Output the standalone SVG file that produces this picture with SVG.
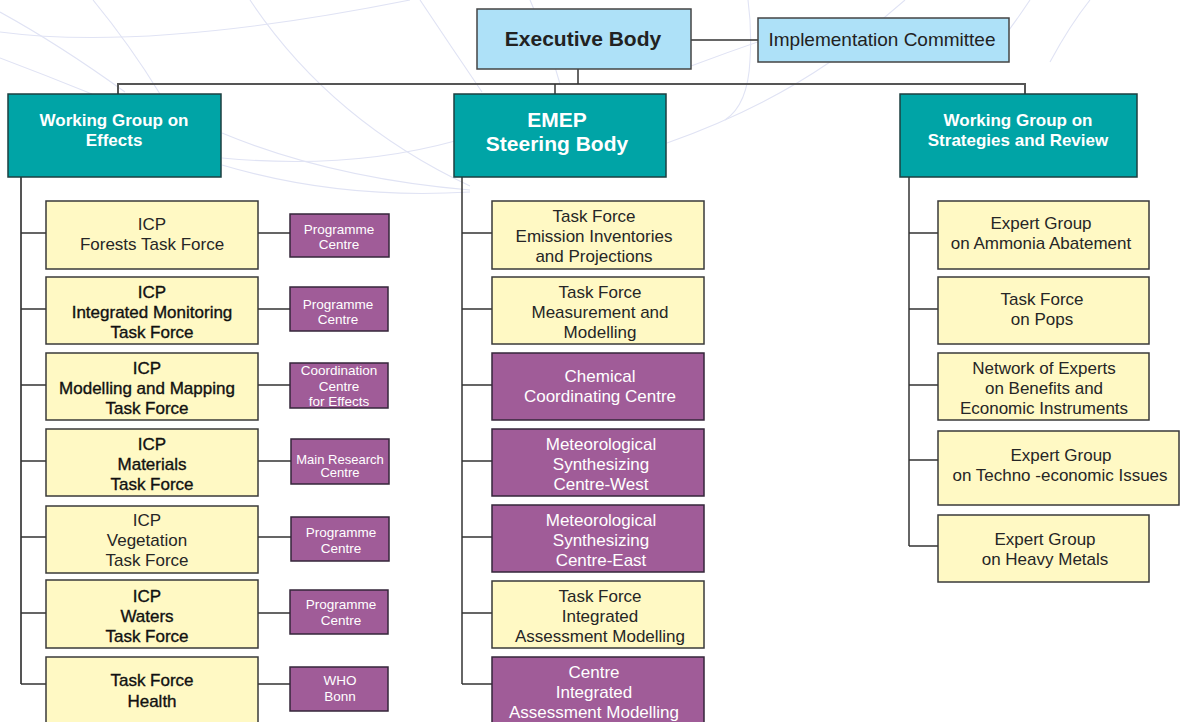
<svg xmlns="http://www.w3.org/2000/svg" width="1185" height="722" viewBox="0 0 1185 722">
  <style>
    text { font-family: "Liberation Sans", Arial, sans-serif; text-anchor: middle; }
    .bg { fill: none; stroke: #e0e3f4; stroke-width: 1.1; }
    .link { fill: none; stroke: #333; stroke-width: 1.5; }
    .bus { fill: none; stroke: #555; stroke-width: 2; }
    .blue { fill: #aee1f8; stroke: #444; stroke-width: 1.5; }
    .teal { fill: #00a4a6; stroke: #1d3f40; stroke-width: 1.5; }
    .yel { fill: #fff9c4; stroke: #3a3a3a; stroke-width: 1.5; }
    .pur { fill: #a05c98; stroke: #35263a; stroke-width: 1.5; }
    .tY { font-size: 17px; fill: #262626; }
    .dk { fill: #111; stroke: #111; stroke-width: 0.35; }
    .tP { font-size: 17px; fill: #fff; }
    .tS { font-size: 13.5px; fill: #fff; }
    .tH { font-size: 17px; font-weight: bold; fill: #fff; }
    .tE { font-size: 21px; font-weight: bold; fill: #fff; }
  </style>

  <rect width="1185" height="722" fill="#fff"/>

  <!-- faint globe mesh in the background -->
  <g id="mesh">
    <path class="bg" d="M0,32 Q150,52 410,0"/>
    <path class="bg" d="M0,12 Q60,45 125,92"/>
    <path class="bg" d="M0,58 Q45,75 92,94"/>
    <path class="bg" d="M93,0 Q130,45 160,94"/>
    <path class="bg" d="M250,0 Q330,120 470,186"/>
    <path class="bg" d="M420,0 Q450,45 482,92"/>
    <path class="bg" d="M222,133 Q330,178 470,190"/>
    <path class="bg" d="M222,158 Q350,170 455,141"/>
    <path class="bg" d="M222,165 Q340,200 470,192"/>
    <path class="bg" d="M667,143 Q760,110 830,62 Q870,30 905,0"/>
    <path class="bg" d="M750,60 Q748,105 725,120"/>
    <path class="bg" d="M691,66 Q760,40 830,18"/>
    <path class="bg" d="M748,0 Q752,30 750,60"/>
    <path class="bg" d="M530,0 Q548,40 560,84"/>
    <path class="bg" d="M1030,0 Q1010,30 985,62"/>
    <path class="bg" d="M1090,0 Q1070,25 1050,62"/>
  </g>

  <!-- connectors -->
  <g id="connectors">
    <path class="link" d="M691,40 H758"/>
    <path class="bus" d="M118,94 V84 H1025 V94"/>
    <path class="link" d="M578,69 V84"/>
    <path class="link" d="M555,84 V94"/>
    <!-- effects branch -->
    <path class="bus" d="M21,177 V684"/>
    <path class="link" d="M21,233 H46 M21,309 H46 M21,385 H46 M21,461 H46 M21,537 H46 M21,613 H46 M21,684 H46"/>
    <path class="link" d="M258,233 H290 M258,309 H290 M258,385 H290 M258,461 H291 M258,537 H291 M258,613 H290 M258,684 H290"/>
    <!-- EMEP branch -->
    <path class="link" d="M462,177 V684"/>
    <path class="link" d="M462,233 H492 M462,309 H492 M462,385 H492 M462,461 H492 M462,537 H492 M462,613 H492 M462,684 H492"/>
    <!-- strategies branch -->
    <path class="link" d="M909,177 V546"/>
    <path class="link" d="M909,233 H938 M909,309 H938 M909,385 H938 M909,460 H938 M909,546 H938"/>
  </g>

  <!-- top level -->
  <g id="executive-body">
    <rect class="blue" x="477" y="9" width="214" height="60"/>
    <text x="583" y="46" style="font-size:21px;font-weight:bold;fill:#222">Executive Body</text>
  </g>
  <g id="implementation-committee">
    <rect class="blue" x="758" y="18" width="251" height="44"/>
    <text x="882" y="46" style="font-size:19px;fill:#222">Implementation Committee</text>
  </g>

  <g id="wg-effects">
    <rect class="teal" x="8" y="94" width="213" height="83"/>
    <text class="tH" x="114" y="126">Working Group on</text>
    <text class="tH" x="114" y="146">Effects</text>
  </g>
  <g id="emep-steering-body">
    <rect class="teal" x="454" y="94" width="212" height="83"/>
    <text class="tE" x="557" y="127">EMEP</text>
    <text class="tE" x="557" y="151">Steering Body</text>
  </g>
  <g id="wg-strategies">
    <rect class="teal" x="900" y="94" width="237" height="83"/>
    <text class="tH" x="1018" y="126">Working Group on</text>
    <text class="tH" x="1018" y="146">Strategies and Review</text>
  </g>

  <!-- effects column -->
  <g id="icp-forests">
    <rect class="yel" x="46" y="201" width="212" height="68"/>
    <text class="tY" x="152" y="230">ICP</text>
    <text class="tY" x="152" y="250">Forests Task Force</text>
  </g>
  <g id="pc-forests">
    <rect class="pur" x="290" y="214" width="99" height="43"/>
    <text class="tS" x="339" y="234">Programme</text>
    <text class="tS" x="339" y="249">Centre</text>
  </g>

  <g id="icp-integrated-monitoring">
    <rect class="yel" x="46" y="277" width="212" height="67"/>
    <text class="tY dk" x="152" y="298">ICP</text>
    <text class="tY dk" x="152" y="318">Integrated Monitoring</text>
    <text class="tY dk" x="152" y="338">Task Force</text>
  </g>
  <g id="pc-integrated-monitoring">
    <rect class="pur" x="290" y="287" width="98" height="44"/>
    <text class="tS" x="338" y="309">Programme</text>
    <text class="tS" x="338" y="324">Centre</text>
  </g>

  <g id="icp-modelling-mapping">
    <rect class="yel" x="46" y="353" width="212" height="67"/>
    <text class="tY dk" x="147" y="374">ICP</text>
    <text class="tY dk" x="147" y="394">Modelling and Mapping</text>
    <text class="tY dk" x="147" y="414">Task Force</text>
  </g>
  <g id="cce">
    <rect class="pur" x="290" y="363" width="98" height="45"/>
    <text class="tS" x="339" y="375">Coordination</text>
    <text class="tS" x="339" y="391">Centre</text>
    <text class="tS" x="339" y="406">for Effects</text>
  </g>

  <g id="icp-materials">
    <rect class="yel" x="46" y="429" width="212" height="67"/>
    <text class="tY dk" x="152" y="450">ICP</text>
    <text class="tY dk" x="152" y="470">Materials</text>
    <text class="tY dk" x="152" y="490">Task Force</text>
  </g>
  <g id="main-research-centre">
    <rect class="pur" x="291" y="439" width="98" height="45"/>
    <text class="tS" x="340" y="464" style="font-size:13px">Main Research</text>
    <text class="tS" x="340" y="477" style="font-size:13px">Centre</text>
  </g>

  <g id="icp-vegetation">
    <rect class="yel" x="46" y="506" width="212" height="67"/>
    <text class="tY" x="147" y="526">ICP</text>
    <text class="tY" x="147" y="546">Vegetation</text>
    <text class="tY" x="147" y="566">Task Force</text>
  </g>
  <g id="pc-vegetation">
    <rect class="pur" x="291" y="517" width="98" height="44"/>
    <text class="tS" x="341" y="537">Programme</text>
    <text class="tS" x="341" y="553">Centre</text>
  </g>

  <g id="icp-waters">
    <rect class="yel" x="46" y="580" width="212" height="68"/>
    <text class="tY dk" x="147" y="602">ICP</text>
    <text class="tY dk" x="147" y="622">Waters</text>
    <text class="tY dk" x="147" y="642">Task Force</text>
  </g>
  <g id="pc-waters">
    <rect class="pur" x="290" y="590" width="98" height="44"/>
    <text class="tS" x="341" y="609">Programme</text>
    <text class="tS" x="341" y="625">Centre</text>
  </g>

  <g id="tf-health">
    <rect class="yel" x="46" y="657" width="212" height="70"/>
    <text class="tY dk" x="152" y="686">Task Force</text>
    <text class="tY dk" x="152" y="707">Health</text>
  </g>
  <g id="who-bonn">
    <rect class="pur" x="290" y="667" width="98" height="44"/>
    <text class="tS" x="340" y="685">WHO</text>
    <text class="tS" x="340" y="701">Bonn</text>
  </g>

  <!-- EMEP column -->
  <g id="tf-emission-inventories">
    <rect class="yel" x="492" y="201" width="212" height="68"/>
    <text class="tY" x="594" y="222">Task Force</text>
    <text class="tY" x="594" y="242">Emission Inventories</text>
    <text class="tY" x="594" y="262">and Projections</text>
  </g>
  <g id="tf-measurement-modelling">
    <rect class="yel" x="492" y="277" width="212" height="67"/>
    <text class="tY" x="600" y="298">Task Force</text>
    <text class="tY" x="600" y="318">Measurement and</text>
    <text class="tY" x="600" y="338">Modelling</text>
  </g>
  <g id="ccc">
    <rect class="pur" x="492" y="353" width="212" height="67"/>
    <text class="tP" x="600" y="382">Chemical</text>
    <text class="tP" x="600" y="402">Coordinating Centre</text>
  </g>
  <g id="msc-west">
    <rect class="pur" x="492" y="429" width="212" height="67"/>
    <text class="tP" x="601" y="450">Meteorological</text>
    <text class="tP" x="601" y="470">Synthesizing</text>
    <text class="tP" x="601" y="490">Centre-West</text>
  </g>
  <g id="msc-east">
    <rect class="pur" x="492" y="505" width="212" height="67"/>
    <text class="tP" x="601" y="526">Meteorological</text>
    <text class="tP" x="601" y="546">Synthesizing</text>
    <text class="tP" x="601" y="566">Centre-East</text>
  </g>
  <g id="tf-iam">
    <rect class="yel" x="492" y="581" width="212" height="67"/>
    <text class="tY" x="600" y="602">Task Force</text>
    <text class="tY" x="600" y="622">Integrated</text>
    <text class="tY" x="600" y="642">Assessment Modelling</text>
  </g>
  <g id="ciam">
    <rect class="pur" x="492" y="657" width="212" height="70"/>
    <text class="tP" x="594" y="678">Centre</text>
    <text class="tP" x="594" y="698">Integrated</text>
    <text class="tP" x="594" y="718">Assessment Modelling</text>
  </g>

  <!-- strategies column -->
  <g id="eg-ammonia">
    <rect class="yel" x="938" y="201" width="211" height="68"/>
    <text class="tY" x="1041" y="229">Expert Group</text>
    <text class="tY" x="1041" y="249">on Ammonia Abatement</text>
  </g>
  <g id="tf-pops">
    <rect class="yel" x="938" y="277" width="211" height="67"/>
    <text class="tY" x="1042" y="305">Task Force</text>
    <text class="tY" x="1042" y="325">on Pops</text>
  </g>
  <g id="network-experts">
    <rect class="yel" x="938" y="353" width="211" height="67"/>
    <text class="tY" x="1044" y="374">Network of Experts</text>
    <text class="tY" x="1044" y="394">on Benefits and</text>
    <text class="tY" x="1044" y="414">Economic Instruments</text>
  </g>
  <g id="eg-techno-economic">
    <rect class="yel" x="938" y="431" width="241" height="74"/>
    <text class="tY" x="1061" y="461">Expert Group</text>
    <text class="tY" x="1060" y="481">on Techno -economic Issues</text>
  </g>
  <g id="eg-heavy-metals">
    <rect class="yel" x="938" y="515" width="211" height="67"/>
    <text class="tY" x="1045" y="545">Expert Group</text>
    <text class="tY" x="1045" y="565">on Heavy Metals</text>
  </g>
</svg>
